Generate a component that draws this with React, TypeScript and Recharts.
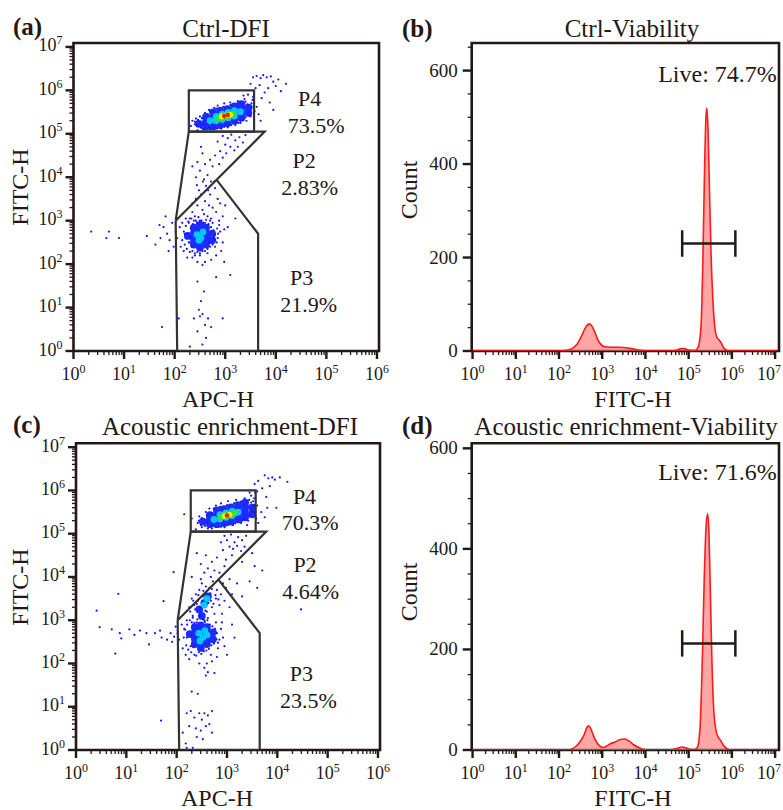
import React from "react";
import {
  ScatterChart,
  Scatter,
  AreaChart,
  Area,
  XAxis,
  YAxis,
  ReferenceArea,
  ReferenceLine,
  ReferenceDot,
} from "recharts";

const FONT = '"Liberation Serif", "Times New Roman", serif';
const INK = "#231815";
const GATE = "#333333";

type Pt = [number, number];

// axis decades (log10) and minor steps
const dotDecadesX = [0, 1, 2, 3, 4, 5, 6];
const dotDecadesY = [0, 1, 2, 3, 4, 5, 6, 7];
const histDecades = [0, 1, 2, 3, 4, 5, 6, 7];
const minorSteps = [2, 3, 4, 5, 6, 7, 8, 9];
const ctrlCountTicks = [0, 50, 100, 150, 200, 250, 300, 350, 400, 450, 500, 550, 600, 650];
const enrichedCountTicks = [0, 50, 100, 150, 200, 250, 300, 350, 400, 450, 500, 550, 600];

// gates (log10 APC-H, log10 FITC-H)
const gateP4: Pt[] = [[2.28, 5.05], [2.28, 6.0], [3.57, 6.0], [3.57, 5.05], [2.28, 5.05]];
const gateP2: Pt[] = [[2.02, 3.0], [2.28, 5.05], [3.78, 5.05], [2.83, 3.94], [2.02, 3.0]];
const gateP3: Pt[] = [[2.02, 3.0], [2.05, 0], [3.65, 0], [3.65, 2.7], [2.83, 3.94]];

// Ctrl-DFI events
const ctrlSparse: Pt[] = [
  [2.35, 5.3], [2.4, 5.22], [2.42, 5.35], [2.5, 5.4], [2.55, 5.12], [2.6, 5.48], [2.68, 5.55], [2.7, 5.1], [2.78, 5.6], [2.85, 5.65],
  [2.92, 5.12], [2.98, 5.7], [3.05, 5.15], [3.1, 5.72], [3.2, 5.2], [3.25, 5.75], [3.3, 5.25], [3.38, 5.8], [3.42, 5.3], [3.5, 5.4],
  [3.52, 5.7], [3.55, 5.85], [3.45, 5.9], [3.36, 5.88], [3.58, 5.52], [3.62, 5.62], [3.66, 5.45], [3.7, 5.3], [2.32, 5.18], [2.45, 5.08],
  [3.55, 6.3], [3.62, 6.33], [3.7, 6.28], [3.75, 6.35], [3.82, 6.3], [3.9, 6.32], [3.95, 6.2], [4.0, 6.1], [4.05, 6.25], [4.2, 6.15],
  [3.85, 6.05], [3.68, 6.12], [3.6, 6.05], [3.78, 5.95], [4.1, 5.98], [3.5, 6.15], [3.88, 5.72], [3.95, 5.55], [3.72, 5.82],
  [2.95, 4.95], [3.05, 4.9], [3.12, 4.98], [3.2, 4.85], [3.28, 4.92], [3.35, 4.8], [3.0, 4.75], [3.1, 4.7], [3.18, 4.62], [2.9, 4.6],
  [2.85, 4.82], [3.25, 4.7], [2.8, 4.5], [2.7, 4.4], [2.95, 4.45], [2.6, 4.3], [2.75, 4.25], [2.5, 4.15], [2.65, 4.05], [2.45, 4.35],
  [2.55, 4.55], [2.42, 4.0], [2.58, 3.95], [2.72, 3.9], [3.4, 4.97], [2.35, 4.25], [3.02, 4.55], [2.88, 4.3], [2.52, 4.7],
  [2.3, 3.05], [2.35, 3.2], [2.4, 3.1], [2.45, 3.35], [2.5, 3.0], [2.55, 3.25], [2.6, 3.45], [2.65, 3.1], [2.7, 3.6], [2.75, 3.3],
  [2.8, 3.75], [2.85, 3.5], [2.62, 3.8], [2.52, 3.6], [2.42, 3.5], [2.38, 3.0], [2.58, 3.15], [2.68, 3.35], [2.78, 3.9], [2.48, 3.7],
  [2.72, 3.05], [2.82, 3.2], [2.9, 3.4], [2.56, 3.9], [2.44, 3.82], [2.66, 3.7], [2.35, 3.4], [2.95, 3.1], [2.88, 3.0], [2.6, 2.95],
  [2.02, 2.75], [2.05, 2.6], [2.1, 2.85], [2.12, 2.4], [2.15, 2.95], [2.18, 2.3], [2.2, 2.7], [2.25, 2.15], [2.28, 2.95], [2.3, 2.5],
  [2.8, 2.4], [2.85, 2.6], [2.9, 2.75], [2.95, 2.5], [2.82, 2.2], [2.72, 2.1], [2.6, 2.05], [2.45, 2.05], [2.35, 2.15], [2.55, 1.98],
  [2.4, 2.25], [2.65, 2.25], [2.75, 2.95], [2.88, 2.9], [2.98, 2.8], [2.92, 2.3], [2.22, 3.05], [2.5, 2.2],
  [2.58, 1.37], [2.52, 1.15], [2.55, 0.85], [2.5, 0.8], [2.48, 0.95], [2.6, 0.6], [2.45, 0.45], [2.38, 0.75], [2.62, 0.3], [2.3, 0.1],
  [2.66, 0.75], [2.72, 0.55], [2.55, 0.15], [2.82, 1.7], [2.08, 0.75], [1.75, 0.55], [2.45, 1.6], [2.95, 0.75],
  [0.35, 2.75], [0.65, 2.6], [0.7, 2.75], [0.9, 2.6], [1.45, 2.65], [1.62, 2.45], [1.78, 2.85], [1.85, 2.7], [1.9, 2.55], [1.95, 2.95],
  [1.98, 2.4], [1.72, 2.6], [1.88, 2.3], [1.82, 3.1], [1.7, 2.9],
  [3.05, 2.85], [3.2, 3.05], [3.0, 3.35], [2.98, 2.05], [3.1, 1.75],
];
const ctrlFringe: Pt[] = [
  [2.15, 2.55], [2.18, 2.75], [2.2, 2.45], [2.22, 2.88], [2.24, 2.35], [2.27, 2.98], [2.3, 2.28], [2.3, 2.62], [2.33, 3.05], [2.34, 2.4],
  [2.36, 2.92], [2.4, 2.2], [2.42, 3.0], [2.45, 2.28], [2.47, 3.08], [2.5, 2.25], [2.53, 3.0], [2.55, 2.3], [2.57, 2.95], [2.6, 2.3],
  [2.62, 3.02], [2.65, 2.35], [2.67, 2.92], [2.7, 2.4], [2.72, 2.85], [2.75, 2.45], [2.77, 2.78], [2.8, 2.55], [2.8, 2.68], [2.83, 2.5],
  [2.84, 2.82], [2.86, 2.7], [2.7, 3.0], [2.44, 2.95], [2.28, 2.5], [2.25, 2.7], [2.32, 2.82], [2.78, 2.6], [2.68, 2.5], [2.35, 2.3],
  [2.4, 5.28], [2.44, 5.18], [2.46, 5.32], [2.52, 5.14], [2.54, 5.36], [2.58, 5.1], [2.66, 5.44], [2.7, 5.52], [2.82, 5.58], [2.84, 5.12],
  [2.96, 5.62], [2.98, 5.16], [3.1, 5.66], [3.12, 5.2], [3.24, 5.7], [3.26, 5.25], [3.4, 5.74], [3.4, 5.38], [3.48, 5.42], [3.52, 5.62],
  [3.54, 5.78], [3.44, 5.68], [3.3, 5.3], [2.56, 5.22], [2.68, 5.14],
];
const ctrlDensity1: Pt[] = [
  [2.48, 5.23], [2.62, 5.17], [2.62, 5.28], [2.62, 5.39], [2.76, 5.17], [2.76, 5.28], [2.76, 5.39], [2.76, 5.49],
  [2.9, 5.2], [2.9, 5.31], [2.9, 5.42], [2.9, 5.53], [3.04, 5.24], [3.04, 5.35], [3.04, 5.46], [3.04, 5.57],
  [3.18, 5.3], [3.18, 5.41], [3.18, 5.52], [3.18, 5.63], [3.32, 5.37], [3.32, 5.48], [3.32, 5.6], [3.32, 5.68],
  [3.46, 5.48], [3.46, 5.6],
  [2.26, 2.65], [2.38, 2.45], [2.38, 2.58], [2.38, 2.71], [2.38, 2.84], [2.5, 2.38], [2.5, 2.51], [2.5, 2.64],
  [2.5, 2.77], [2.5, 2.9], [2.62, 2.45], [2.62, 2.58], [2.62, 2.71], [2.62, 2.84], [2.74, 2.55], [2.74, 2.7],
];
const ctrlDensity2: Pt[] = [
  [2.7, 5.3], [2.82, 5.3], [2.82, 5.4], [2.94, 5.33], [2.94, 5.45], [3.06, 5.37], [3.06, 5.49], [3.18, 5.41],
  [3.18, 5.53], [3.3, 5.51], [2.44, 2.68], [2.52, 2.6], [2.56, 2.74], [2.48, 2.55],
];
const ctrlDensity3: Pt[] = [[2.85, 5.36], [2.95, 5.37], [2.95, 5.42], [3.05, 5.4], [3.05, 5.46], [3.15, 5.45]];
const ctrlDensity4: Pt[] = [[2.93, 5.4], [3.03, 5.42], [3.1, 5.44]];
const ctrlDensity5: Pt[] = [[2.98, 5.41], [3.05, 5.43]];

// Acoustic enrichment-DFI events
const enrichedSparse: Pt[] = [
  [2.3, 5.35], [2.42, 5.25], [2.45, 5.4], [2.5, 5.15], [2.58, 5.5], [2.65, 5.58], [2.7, 5.12], [2.78, 5.65], [2.88, 5.7], [2.95, 5.15],
  [3.02, 5.75], [3.12, 5.2], [3.18, 5.78], [3.28, 5.25], [3.35, 5.82], [3.42, 5.3], [3.48, 5.88], [3.52, 5.75], [3.55, 5.5], [3.58, 5.35],
  [3.6, 5.65], [3.56, 5.95], [3.45, 5.95], [3.62, 5.25], [3.68, 5.5], [3.75, 5.38], [3.8, 5.6], [2.38, 5.1], [2.15, 5.45], [3.4, 5.2],
  [3.55, 6.15], [3.75, 6.35], [3.82, 6.28], [3.9, 6.3], [3.95, 6.25], [4.05, 6.3], [4.2, 6.2], [3.85, 6.1], [3.6, 5.98], [3.7, 6.05],
  [3.78, 5.85], [3.98, 5.6], [3.62, 6.22],
  [2.95, 4.95], [3.0, 4.85], [3.08, 4.98], [3.15, 4.8], [3.22, 4.92], [3.3, 4.85], [3.38, 4.95], [3.05, 4.7], [3.12, 4.65], [3.2, 4.72],
  [3.28, 4.6], [2.92, 4.62], [2.88, 4.8], [3.35, 4.7], [2.8, 4.45], [2.7, 4.35], [2.98, 4.4], [2.62, 4.2], [2.75, 4.15], [2.55, 4.1],
  [2.68, 4.0], [2.48, 4.3], [2.58, 4.5], [2.85, 4.1], [3.1, 4.5], [2.95, 4.25], [3.5, 4.55], [3.7, 4.15], [3.55, 4.25], [2.4, 4.55],
  [2.3, 4.0], [2.92, 3.85], [3.05, 3.95], [3.3, 4.35],
  [2.25, 3.3], [2.3, 3.5], [2.32, 3.1], [2.38, 3.6], [2.4, 2.95], [2.45, 3.7], [2.5, 3.85], [2.55, 3.0], [2.6, 3.2], [2.65, 3.75],
  [2.7, 3.3], [2.72, 3.9], [2.78, 3.5], [2.8, 3.7], [2.85, 3.35], [2.88, 3.6], [2.9, 3.15], [2.95, 3.45], [2.42, 3.45], [2.58, 3.62],
  [2.68, 3.45], [2.52, 3.55], [2.35, 3.35], [2.62, 3.05], [2.75, 3.15], [2.98, 3.75], [3.05, 3.3], [3.1, 3.6], [2.2, 3.0], [2.48, 3.95],
  [2.02, 2.7], [2.05, 2.55], [2.1, 2.9], [2.12, 2.35], [2.15, 2.8], [2.18, 2.2], [2.2, 2.6], [2.25, 2.1], [2.3, 2.95], [2.28, 2.4],
  [2.82, 2.35], [2.85, 2.55], [2.88, 2.8], [2.92, 2.6], [2.8, 2.15], [2.7, 2.05], [2.6, 2.0], [2.45, 2.0], [2.35, 2.2], [2.55, 1.9],
  [2.68, 2.2], [2.78, 2.95], [2.9, 2.95], [2.62, 1.8], [2.58, 1.72], [2.75, 1.78], [2.95, 2.4],
  [2.3, 1.35], [2.42, 1.3], [2.2, 0.85], [2.28, 0.9], [2.35, 0.75], [2.45, 0.85], [2.5, 0.7], [2.55, 0.85], [2.62, 0.8], [2.7, 0.9],
  [2.25, 0.55], [2.38, 0.5], [2.48, 0.45], [2.58, 0.55], [2.65, 0.6], [2.4, 0.3], [2.52, 0.25], [2.2, 0.05], [2.32, 0.05], [2.12, 0.4],
  [2.18, 0.15], [2.7, 0.4],
  [0.41, 3.22], [0.47, 2.84], [0.71, 2.79], [0.84, 3.61], [0.87, 2.7], [0.9, 2.58], [1.06, 2.79], [1.16, 2.66], [1.27, 2.76], [1.4, 2.7],
  [1.45, 2.44], [1.57, 2.7], [1.67, 2.76], [1.7, 2.6], [1.74, 3.44], [1.81, 2.55], [1.88, 2.7], [1.91, 2.5], [1.94, 4.11], [0.78, 2.23],
  [1.69, 0.68], [1.98, 2.85], [1.95, 2.62],
  [4.47, 3.25], [3.3, 3.55], [3.6, 3.75], [3.45, 3.9], [3.2, 3.85], [3.1, 2.9], [3.0, 2.2], [3.15, 2.6],
];
const enrichedFringe: Pt[] = [
  [2.14, 2.6], [2.17, 2.78], [2.19, 2.42], [2.21, 2.9], [2.23, 2.32], [2.26, 3.0], [2.29, 2.26], [2.3, 2.66], [2.32, 3.06], [2.33, 2.38],
  [2.35, 2.94], [2.39, 2.18], [2.41, 3.02], [2.44, 2.26], [2.46, 3.1], [2.49, 2.22], [2.52, 3.02], [2.54, 2.28], [2.56, 2.96], [2.59, 2.3],
  [2.61, 3.0], [2.64, 2.34], [2.66, 2.9], [2.69, 2.42], [2.71, 2.86], [2.74, 2.46], [2.76, 2.8], [2.79, 2.56], [2.8, 2.7], [2.82, 2.48],
  [2.27, 3.2], [2.33, 3.45], [2.37, 3.25], [2.43, 3.58], [2.47, 3.3], [2.53, 3.68], [2.57, 3.22], [2.63, 3.4], [2.67, 3.62], [2.73, 3.38],
  [2.77, 3.58], [2.83, 3.48], [2.4, 3.38], [2.58, 3.78], [2.7, 3.72],
  [2.44, 5.3], [2.48, 5.2], [2.5, 5.36], [2.56, 5.18], [2.6, 5.42], [2.62, 5.12], [2.7, 5.48], [2.74, 5.58], [2.86, 5.62], [2.88, 5.16],
  [3.0, 5.66], [3.02, 5.2], [3.14, 5.7], [3.16, 5.24], [3.28, 5.74], [3.3, 5.3], [3.44, 5.78], [3.44, 5.42], [3.5, 5.52], [3.54, 5.66],
  [3.54, 5.82], [3.48, 5.72], [3.34, 5.34], [2.6, 5.26], [2.72, 5.18],
];
const enrichedDensity1: Pt[] = [
  [2.52, 5.28], [2.66, 5.22], [2.66, 5.33], [2.66, 5.43], [2.8, 5.22], [2.8, 5.33], [2.8, 5.44], [2.8, 5.54],
  [2.94, 5.25], [2.94, 5.36], [2.94, 5.47], [2.94, 5.57], [3.08, 5.28], [3.08, 5.39], [3.08, 5.5], [3.08, 5.61],
  [3.22, 5.33], [3.22, 5.44], [3.22, 5.55], [3.22, 5.66], [3.36, 5.38], [3.36, 5.5], [3.36, 5.62], [3.36, 5.72],
  [3.5, 5.45], [3.5, 5.6],
  [2.26, 2.68], [2.36, 2.45], [2.36, 2.58], [2.36, 2.71], [2.36, 2.84], [2.48, 2.36], [2.48, 2.49], [2.48, 2.62],
  [2.48, 2.75], [2.48, 2.88], [2.6, 2.45], [2.6, 2.58], [2.6, 2.71], [2.6, 2.84], [2.72, 2.56], [2.72, 2.72],
  [2.45, 3.25], [2.55, 3.4], [2.62, 3.55], [2.5, 3.1],
];
const enrichedDensity2: Pt[] = [
  [2.74, 5.33], [2.86, 5.34], [2.86, 5.44], [2.98, 5.38], [2.98, 5.48], [3.1, 5.42], [3.1, 5.52], [3.22, 5.5],
  [2.44, 2.7], [2.52, 2.6], [2.56, 2.76], [2.46, 2.52], [2.6, 2.66], [2.55, 3.35], [2.6, 3.5],
];
const enrichedDensity3: Pt[] = [[2.88, 5.38], [2.98, 5.4], [2.98, 5.46], [3.08, 5.44], [3.16, 5.48]];
const enrichedDensity4: Pt[] = [[2.95, 5.41], [3.05, 5.44]];
const enrichedDensity5: Pt[] = [[3.0, 5.42]];

// viability histograms: log10 FITC-H and count
const ctrlFitc = [0, 2.0, 2.15, 2.3, 2.42, 2.52, 2.6, 2.66, 2.7, 2.75, 2.82, 2.9, 2.98, 3.06, 3.2, 3.4, 3.55, 3.68, 3.8, 3.92, 4.02, 4.6, 4.72, 4.82, 4.9, 5.0, 5.1, 5.18, 5.24, 5.29, 5.33, 5.37, 5.4, 5.42, 5.45, 5.48, 5.52, 5.56, 5.6, 5.65, 5.7, 5.75, 5.8, 5.87, 5.95, 7.05];
const ctrlCount = [0, 0, 1, 5, 15, 32, 48, 56, 58, 55, 42, 24, 13, 9, 8, 8, 7, 5, 3, 1, 0, 0, 2, 5, 5, 2, 1, 3, 15, 60, 200, 400, 500, 520, 470, 350, 200, 110, 55, 30, 24, 18, 8, 2, 0, 0];
const enrichedFitc = [0, 2.2, 2.3, 2.4, 2.5, 2.58, 2.64, 2.68, 2.72, 2.8, 2.88, 2.96, 3.03, 3.1, 3.2, 3.3, 3.42, 3.52, 3.62, 3.72, 3.82, 3.92, 4.05, 4.55, 4.68, 4.8, 4.86, 4.95, 5.05, 5.14, 5.2, 5.26, 5.31, 5.36, 5.4, 5.44, 5.47, 5.5, 5.54, 5.58, 5.63, 5.68, 5.74, 5.8, 5.88, 5.96, 7.05];
const enrichedCount = [0, 0, 2, 8, 18, 30, 44, 48, 45, 28, 14, 7, 5, 8, 13, 16, 21, 22, 18, 11, 6, 2, 0, 0, 2, 5, 6, 4, 1, 1, 5, 40, 160, 340, 440, 470, 430, 320, 170, 80, 40, 26, 19, 10, 3, 0, 0];

// live gate: [from, to, level]
const ctrlLiveGate = [4.85, 6.08, 230];
const enrichedLiveGate = [4.85, 6.08, 212];

const DOT_X: [number, number] = [0, 6.04];
const DOT_Y: [number, number] = [0, 7.09];
const HIST_X: [number, number] = [-0.02, 7.09];

const LEVEL_STYLE = [
  { color: "#1c2cff", r: 3.9 },
  { color: "#00c8ff", r: 3.4 },
  { color: "#34e23a", r: 3.2 },
  { color: "#f4f000", r: 2.8 },
  { color: "#ff1e00", r: 2.3 },
];

function logTicks(decades: number[]) {
  const out: number[] = [];
  decades.forEach((d, i) => {
    out.push(d);
    if (i < decades.length - 1) minorSteps.forEach((m) => out.push(d + Math.log10(m)));
  });
  return out;
}

const dotXTicks = logTicks(dotDecadesX);
const dotYTicks = logTicks(dotDecadesY);
const histXTicks = logTicks(histDecades);

const toPts = (a: Pt[]) => a.map(([x, y]) => ({ x, y }));

const LogXTick = (props: any) => {
  const { x, y, payload } = props;
  const v = payload.value;
  const major = Number.isInteger(v);
  // the last histogram decade sits on the page edge; nudge it in
  const shift = v === 7 ? -6 : 0;
  return (
    <g>
      <line x1={x} x2={x} y1={y} y2={y + (major ? 8 : 4)} stroke={INK} strokeWidth={major ? 2.4 : 1.3} />
      {major && (
        <text x={x + shift} y={y + 29} textAnchor="middle" fontFamily={FONT} fontSize={18} fill={INK}>
          10<tspan dy={-7} fontSize={12}>{v}</tspan>
        </text>
      )}
    </g>
  );
};

const LogYTick = (props: any) => {
  const { x, y, payload } = props;
  const v = payload.value;
  const major = Number.isInteger(v);
  return (
    <g>
      <line x1={x} x2={x - (major ? 8 : 4)} y1={y} y2={y} stroke={INK} strokeWidth={major ? 2.4 : 1.3} />
      {major && (
        <text x={x - 11} y={y + 4.5} textAnchor="end" fontFamily={FONT} fontSize={18} fill={INK}>
          10<tspan dy={-7} fontSize={12}>{v}</tspan>
        </text>
      )}
    </g>
  );
};

const CountTick = (props: any) => {
  const { x, y, payload } = props;
  const v = payload.value;
  const major = v % 200 === 0;
  return (
    <g>
      <line x1={x} x2={x - (major ? 9 : 4)} y1={y} y2={y} stroke={INK} strokeWidth={major ? 2.4 : 1.3} />
      {major && (
        <text x={x - 14} y={y + 6} textAnchor="end" fontFamily={FONT} fontSize={19} fill={INK}>
          {v}
        </text>
      )}
    </g>
  );
};

const speck = (p: any) => <circle cx={p.cx} cy={p.cy} r={1.1} fill="#1414ff" />;
const blob = (s: { color: string; r: number }) => (p: any) => (
  <circle cx={p.cx} cy={p.cy} r={s.r} fill={s.color} />
);
const noShape = () => <g />;
const textShape = (text: string, size: number, anchor: string, baseline: string) => (p: any) => (
  <text
    x={p.cx}
    y={p.cy}
    textAnchor={anchor}
    dominantBaseline={baseline}
    fontFamily={FONT}
    fontSize={size}
    fill={INK}
  >
    {text}
  </text>
);

type Tag = { text: string; x: number; y: number };

function DotPlot(props: {
  left: number;
  top: number;
  width: number;
  height: number;
  marginTop: number;
  marginRight: number;
  yAxisWidth: number;
  xAxisHeight: number;
  sparse: Pt[];
  levels: Pt[][];
  tags: Tag[];
}) {
  const p = props;
  return (
    <div style={{ position: "absolute", left: p.left, top: p.top }}>
      <ScatterChart
        width={p.width}
        height={p.height}
        margin={{ top: p.marginTop, right: p.marginRight, bottom: 0, left: 0 }}
      >
        <XAxis
          type="number"
          dataKey="x"
          domain={DOT_X}
          ticks={dotXTicks}
          interval={0}
          tick={<LogXTick />}
          tickLine={false}
          axisLine={false}
          tickSize={0}
          tickMargin={0}
          height={p.xAxisHeight}
          allowDataOverflow
        />
        <YAxis
          type="number"
          dataKey="y"
          domain={DOT_Y}
          ticks={dotYTicks}
          interval={0}
          tick={<LogYTick />}
          tickLine={false}
          axisLine={false}
          tickSize={0}
          tickMargin={0}
          width={p.yAxisWidth}
          allowDataOverflow
        />
        {p.levels.map((lv, i) => (
          <Scatter key={"lv" + i} data={toPts(lv)} shape={blob(LEVEL_STYLE[i])} isAnimationActive={false} />
        ))}
        <Scatter data={toPts(p.sparse)} shape={speck} isAnimationActive={false} />
        {[gateP4, gateP2, gateP3].map((g, i) => (
          <Scatter
            key={"gate" + i}
            data={toPts(g)}
            line={{ stroke: GATE, strokeWidth: 2.2 }}
            lineType="joint"
            shape={noShape}
            isAnimationActive={false}
          />
        ))}
        <ReferenceArea
          x1={DOT_X[0]}
          x2={DOT_X[1]}
          y1={DOT_Y[0]}
          y2={DOT_Y[1]}
          fill="none"
          stroke={INK}
          strokeWidth={2.6}
        />
        {p.tags.map((t) => (
          <ReferenceDot key={t.text} x={t.x} y={t.y} r={0} shape={textShape(t.text, 22, "middle", "central")} />
        ))}
      </ScatterChart>
    </div>
  );
}

function Histogram(props: {
  left: number;
  top: number;
  width: number;
  height: number;
  marginTop: number;
  xAxisHeight: number;
  fitc: number[];
  count: number[];
  yMax: number;
  yTicks: number[];
  gate: number[];
  live: string;
  liveY: number;
}) {
  const p = props;
  const rows = p.fitc.map((x, i) => ({ x, count: p.count[i] }));
  const [g1, g2, gy] = p.gate;
  const cap = p.yMax * 0.043;
  return (
    <div style={{ position: "absolute", left: p.left, top: p.top }}>
      <AreaChart
        width={p.width}
        height={p.height}
        data={rows}
        margin={{ top: p.marginTop, right: 4, bottom: 0, left: 0 }}
      >
        <XAxis
          type="number"
          dataKey="x"
          domain={HIST_X}
          ticks={histXTicks}
          interval={0}
          tick={<LogXTick />}
          tickLine={false}
          axisLine={false}
          tickSize={0}
          tickMargin={0}
          height={p.xAxisHeight}
          allowDataOverflow
        />
        <YAxis
          type="number"
          domain={[0, p.yMax]}
          ticks={p.yTicks}
          interval={0}
          tick={<CountTick />}
          tickLine={false}
          axisLine={false}
          tickSize={0}
          tickMargin={0}
          width={81.7}
          allowDataOverflow
        />
        <ReferenceArea
          x1={HIST_X[0]}
          x2={HIST_X[1]}
          y1={0}
          y2={p.yMax}
          fill="none"
          stroke={INK}
          strokeWidth={2.6}
        />
        <Area
          type="monotone"
          dataKey="count"
          stroke="#ff1a1a"
          strokeWidth={1.6}
          fill="#ff6b6b"
          fillOpacity={0.6}
          dot={false}
          activeDot={false}
          isAnimationActive={false}
        />
        <ReferenceLine segment={[{ x: g1, y: gy }, { x: g2, y: gy }]} stroke={INK} strokeWidth={2.5} />
        <ReferenceLine segment={[{ x: g1, y: gy - cap }, { x: g1, y: gy + cap }]} stroke={INK} strokeWidth={2.5} />
        <ReferenceLine segment={[{ x: g2, y: gy - cap }, { x: g2, y: gy + cap }]} stroke={INK} strokeWidth={2.5} />
        <ReferenceDot x={7.04} y={p.liveY} r={0} shape={textShape(p.live, 24, "end", "alphabetic")} />
      </AreaChart>
    </div>
  );
}

const ctrlTags: Tag[] = [
  { text: "P4", x: 4.67, y: 5.81 },
  { text: "73.5%", x: 4.8, y: 5.2 },
  { text: "P2", x: 4.56, y: 4.38 },
  { text: "2.83%", x: 4.67, y: 3.77 },
  { text: "P3", x: 4.51, y: 1.7 },
  { text: "21.9%", x: 4.65, y: 1.08 },
];
const enrichedTags: Tag[] = [
  { text: "P4", x: 4.54, y: 5.87 },
  { text: "70.3%", x: 4.65, y: 5.25 },
  { text: "P2", x: 4.55, y: 4.28 },
  { text: "4.64%", x: 4.66, y: 3.66 },
  { text: "P3", x: 4.48, y: 1.76 },
  { text: "23.5%", x: 4.62, y: 1.15 },
];

const txt = { fontFamily: FONT, fill: INK } as const;

export default function App() {
  return (
    <div style={{ position: "absolute", left: 0, top: 0, width: 783, height: 810, background: "#fff" }}>
      <DotPlot
        left={0}
        top={0}
        width={390}
        height={400}
        marginTop={43}
        marginRight={11}
        yAxisWidth={73.5}
        xAxisHeight={49}
        sparse={[...ctrlSparse, ...ctrlFringe]}
        levels={[ctrlDensity1, ctrlDensity2, ctrlDensity3, ctrlDensity4, ctrlDensity5]}
        tags={ctrlTags}
      />
      <Histogram
        left={390}
        top={0}
        width={393}
        height={400}
        marginTop={43}
        xAxisHeight={49}
        fitc={ctrlFitc}
        count={ctrlCount}
        yMax={659}
        yTicks={ctrlCountTicks}
        gate={ctrlLiveGate}
        live="Live: 74.7%"
        liveY={575}
      />
      <DotPlot
        left={0}
        top={400}
        width={390}
        height={410}
        marginTop={43.3}
        marginRight={10}
        yAxisWidth={76}
        xAxisHeight={60}
        sparse={[...enrichedSparse, ...enrichedFringe]}
        levels={[enrichedDensity1, enrichedDensity2, enrichedDensity3, enrichedDensity4, enrichedDensity5]}
        tags={enrichedTags}
      />
      <Histogram
        left={390}
        top={400}
        width={393}
        height={410}
        marginTop={43.3}
        xAxisHeight={60}
        fitc={enrichedFitc}
        count={enrichedCount}
        yMax={610}
        yTicks={enrichedCountTicks}
        gate={enrichedLiveGate}
        live="Live: 71.6%"
        liveY={537}
      />
      <svg
        width={783}
        height={810}
        style={{ position: "absolute", left: 0, top: 0, pointerEvents: "none" }}
      >
        <text x={13} y={35} fontSize={25} fontWeight="bold" {...txt}>(a)</text>
        <text x={402} y={37} fontSize={25} fontWeight="bold" {...txt}>(b)</text>
        <text x={13} y={433} fontSize={25} fontWeight="bold" {...txt}>(c)</text>
        <text x={402} y={434} fontSize={25} fontWeight="bold" {...txt}>(d)</text>

        <text x={226} y={37} fontSize={25} textAnchor="middle" {...txt}>Ctrl-DFI</text>
        <text x={632} y={37} fontSize={25} textAnchor="middle" {...txt}>Ctrl-Viability</text>
        <text x={230} y={435} fontSize={25} textAnchor="middle" {...txt}>Acoustic enrichment-DFI</text>
        <text x={626} y={435} fontSize={25} textAnchor="middle" {...txt}>Acoustic enrichment-Viability</text>

        <text x={218} y={407} fontSize={24} textAnchor="middle" {...txt}>APC-H</text>
        <text x={633} y={407} fontSize={24} textAnchor="middle" {...txt}>FITC-H</text>
        <text x={217} y={806} fontSize={24} textAnchor="middle" {...txt}>APC-H</text>
        <text x={633} y={806} fontSize={24} textAnchor="middle" {...txt}>FITC-H</text>

        <text transform="translate(28,187) rotate(-90)" fontSize={24} textAnchor="middle" {...txt}>FITC-H</text>
        <text transform="translate(28,587) rotate(-90)" fontSize={24} textAnchor="middle" {...txt}>FITC-H</text>
        <text transform="translate(417,190) rotate(-90)" fontSize={24} textAnchor="middle" {...txt}>Count</text>
        <text transform="translate(417,592) rotate(-90)" fontSize={24} textAnchor="middle" {...txt}>Count</text>
      </svg>
    </div>
  );
}
